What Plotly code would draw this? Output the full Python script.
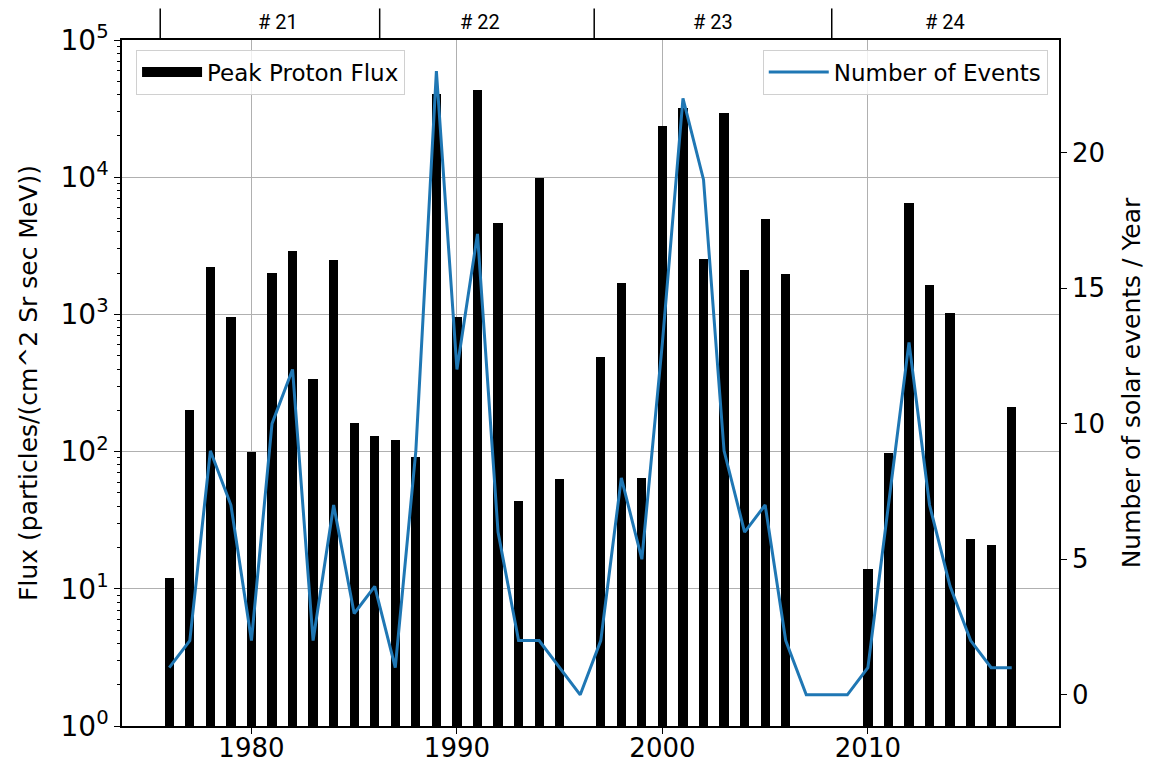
import plotly.graph_objects as go

years = list(range(1976, 2018))
peak_flux = [12, 200, 2200, 960, 100, 2000, 2900, 340, 2500, 161, 130, 121, 92,
             40500, 950, 43000, 4600, 44, 9800, 63, None, 487, 1700, 64,
             23700, 31700, 2550, 29200, 2100, 5000, 1960, None, None, None,
             14, 97, 6450, 1640, 1020, 23, 21, 211]
events = [1, 2, 9, 7, 2, 10, 12, 2, 7, 3, 4, 1, 9,
          23, 12, 17, 6, 2, 2, 1, 0, 2, 8, 5,
          13, 22, 19, 9, 6, 7, 2, 0, 0, 0,
          1, 7, 13, 7, 4, 2, 1, 1]
cycle_bounds = [1975.56, 1986.24, 1996.68, 2008.24]
cycle_label_x = [1981.3, 1991.1, 2002.45, 2013.75]
cycle_labels = ["# 21", "# 22", "# 23", "# 24"]
ytick_vals = [1, 10, 100, 1000, 10000, 100000]
ytick_text = ["10<sup>0</sup>", "10<sup>1</sup>", "10<sup>2</sup>", "10<sup>3</sup>",
              "10<sup>4</sup>", "10<sup>5</sup>"]
minor_vals = [m * d for d in ytick_vals[:-1] for m in range(2, 10)]

fig = go.Figure()
fig.add_trace(go.Bar(x=years, y=peak_flux, width=0.45, marker=dict(color="black", line=dict(width=0)),
                     name="Peak Proton Flux", showlegend=False, yaxis="y"))
# legend entry styled as a wide black patch
fig.add_trace(go.Scatter(x=[None], y=[None], mode="lines", line=dict(color="black", width=10),
                         name="Peak Proton Flux", legend="legend", yaxis="y"))
fig.add_trace(go.Scatter(x=years, y=events, mode="lines", line=dict(color="#1f77b4", width=3),
                         name="Number of Events", legend="legend2", yaxis="y2"))

font_main = "DejaVu Sans"
fig.update_layout(
    width=1153, height=769,
    margin=dict(l=122, r=94, t=40, b=43),
    plot_bgcolor="white", paper_bgcolor="white",
    font=dict(family=font_main, color="black", size=24),
    bargap=0,
    xaxis=dict(range=[1973.7, 2019.3], tickvals=[1980, 1990, 2000, 2010],
               showgrid=True, gridcolor="#b0b0b0", gridwidth=1,
               showline=True, linecolor="black", linewidth=1.5, mirror=True,
               ticks="outside", ticklen=6, tickcolor="black", ticklabelstandoff=-8,
               tickfont=dict(size=26), zeroline=False, automargin=False),
    yaxis=dict(type="log", range=[0, 5], tickvals=ytick_vals, ticktext=ytick_text,
               showgrid=True, gridcolor="#b0b0b0", gridwidth=1,
               showline=True, linecolor="black", linewidth=1.5,
               ticks="outside", ticklen=6, tickcolor="black",
               minor=dict(tickvals=minor_vals, ticks="outside", ticklen=3, tickcolor="black",
                          showgrid=False),
               tickfont=dict(size=28), automargin=False,
               title=dict(text="Flux (particles/(cm^2 Sr sec MeV))", font=dict(size=25), standoff=16),
               zeroline=False),
    yaxis2=dict(overlaying="y", side="right", range=[-1.15, 24.15],
                tickvals=[0, 5, 10, 15, 20], showgrid=False,
                showline=True, linecolor="black", linewidth=1.5,
                ticks="outside", ticklen=6, tickcolor="black",
                tickfont=dict(size=26), automargin=False,
                title=dict(text="Number of solar events / Year", font=dict(size=25), standoff=18),
                zeroline=False),
    legend=dict(x=0.015, y=0.986, xanchor="left", yanchor="top",
                bgcolor="rgba(255,255,255,0.8)", bordercolor="#d0d0d0", borderwidth=1,
                font=dict(size=23, family=font_main), itemwidth=60),
    legend2=dict(x=0.988, y=0.986, xanchor="right", yanchor="top",
                 bgcolor="rgba(255,255,255,0.8)", bordercolor="#d0d0d0", borderwidth=1,
                 font=dict(size=23, family=font_main), itemwidth=60),
    showlegend=True,
)

for xb in cycle_bounds:
    fig.add_shape(type="line", xref="x", yref="paper", x0=xb, x1=xb, y0=1.0, y1=1.046,
                  line=dict(color="black", width=1.5))
for xl, lab in zip(cycle_label_x, cycle_labels):
    fig.add_annotation(x=xl, y=1.026, xref="x", yref="paper", text=lab, showarrow=False,
                       font=dict(family="Roboto", size=20, color="black"),
                       xanchor="center", yanchor="middle")

fig.write_html("out.html")
